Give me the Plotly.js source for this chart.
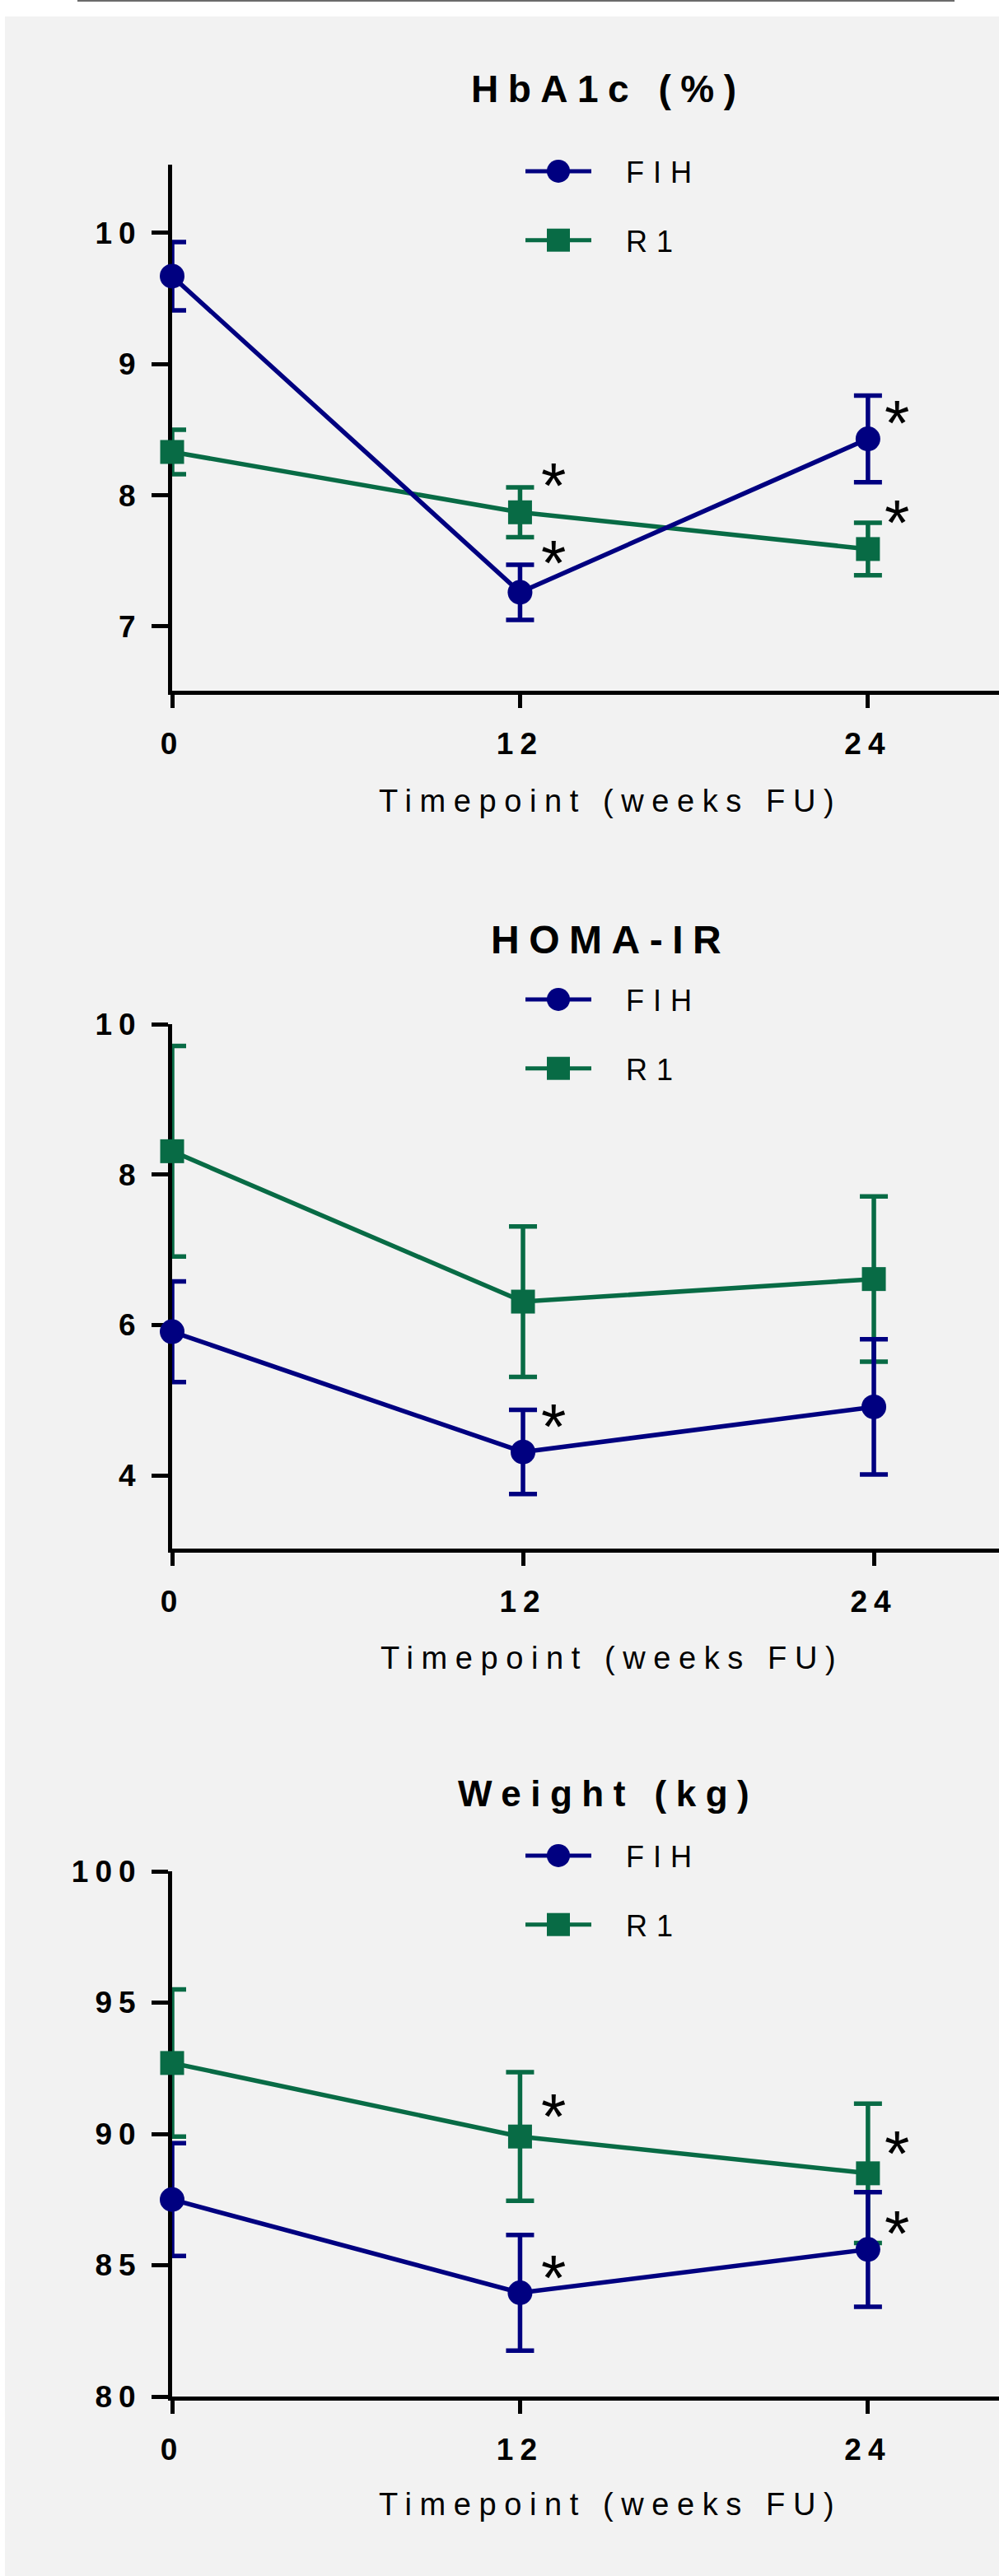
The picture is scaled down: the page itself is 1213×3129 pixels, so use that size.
<!DOCTYPE html>
<html>
<head>
<meta charset="utf-8">
<script src="https://cdn.plot.ly/plotly-3.0.1.min.js"></script>
<style>
  html, body { margin: 0; padding: 0; background: #ffffff; }
  #chart { width: 1213px; height: 3129px; }
  .xtick text, .x2tick text, .x3tick text,
  .ytick text, .y2tick text, .y3tick text { letter-spacing: 8px; }
  .annotation-text { letter-spacing: 11.5px; }
  .annotation[data-index="3"] .annotation-text,
  .annotation[data-index="4"] .annotation-text,
  .annotation[data-index="5"] .annotation-text { letter-spacing: 9.6px; }
  .scrollbox { clip-path: none !important; }
</style>
</head>
<body>
<div id="chart"></div>
<script>
// Follow-up timepoints (weeks)
const weeks = [0, 12, 24];
const weekLabels = ['0', '12', '24'];
const groupNames = ['FIH', 'R1'];

// HbA1c (%) — mean and error
const hba1cFIH = [9.67, 7.26, 8.43];
const hba1cFIHerr = [0.26, 0.21, 0.33];
const hba1cR1 = [8.33, 7.87, 7.59];
const hba1cR1err = [0.17, 0.19, 0.20];

// HOMA-IR — mean and error
const homaFIH = [5.91, 4.31, 4.91];
const homaFIHerr = [0.67, 0.56, 0.90];
const homaR1 = [8.31, 6.31, 6.61];
const homaR1err = [1.40, 1.00, 1.10];

// Weight (kg) — mean and error
const weightFIH = [87.5, 83.95, 85.6];
const weightFIHerr = [2.15, 2.2, 2.18];
const weightR1 = [92.7, 89.9, 88.5];
const weightR1err = [2.8, 2.45, 2.65];

// Significance asterisks (week position, value position)
const hba1cStarWeek = [13.15, 13.15, 25, 25];
const hba1cStarY = [8.18, 7.59, 8.66, 7.90];
const homaStarWeek = [13.05];
const homaStarY = [4.83];
const weightStarWeek = [13.15, 13.15, 25, 25];
const weightStarY = [91.2, 85.06, 89.8, 86.75];

// Panel titles and tick values
const panelTitles = ['HbA1c (%)', 'HOMA-IR', 'Weight (kg)'];
const xTitle = 'Timepoint (weeks FU)';
const hba1cTicks = [7, 8, 9, 10];
const homaTicks = [4, 6, 8, 10];
const weightTicks = [80, 85, 90, 95, 100];

const W = 1213, H = 3129;
const fx = v => v / W;
const fy = v => 1 - v / H;

const FIH_COLOR = '#000080';
const R1_COLOR = '#086b45';
const FONT = 'Liberation Sans, Arial, sans-serif';
const STAR_SIZE = 78;

function groupTrace(name, y, err, axisNum, legendName, color, symbol, size, rank) {
  const sfx = axisNum === 1 ? '' : String(axisNum);
  return {
    type: 'scatter', mode: 'lines+markers', name: name,
    x: weeks, y: y,
    xaxis: 'x' + sfx, yaxis: 'y' + sfx,
    legend: legendName, legendgroup: name + axisNum, legendrank: rank,
    line: { color: color, width: 5.5 },
    marker: { color: color, symbol: symbol, size: size },
    error_y: { type: 'data', array: err, visible: true, color: color, thickness: 5.5, width: 17 },
    cliponaxis: false, hoverinfo: 'skip'
  };
}

// R1 is drawn first so the FIH series sits on top
const data = [
  groupTrace(groupNames[1], hba1cR1, hba1cR1err, 1, 'legend', R1_COLOR, 'square', 29, 2),
  groupTrace(groupNames[0], hba1cFIH, hba1cFIHerr, 1, 'legend', FIH_COLOR, 'circle', 30, 1),
  groupTrace(groupNames[1], homaR1, homaR1err, 2, 'legend2', R1_COLOR, 'square', 29, 2),
  groupTrace(groupNames[0], homaFIH, homaFIHerr, 2, 'legend2', FIH_COLOR, 'circle', 30, 1),
  groupTrace(groupNames[1], weightR1, weightR1err, 3, 'legend3', R1_COLOR, 'square', 29, 2),
  groupTrace(groupNames[0], weightFIH, weightFIHerr, 3, 'legend3', FIH_COLOR, 'circle', 30, 1)
];

function xAxis(anchor, maxWeek) {
  return {
    anchor: anchor, domain: [fx(209), 1], range: [0, maxWeek],
    tickvals: weeks, ticktext: weekLabels,
    showline: true, linecolor: '#000', linewidth: 5,
    ticks: 'outside', ticklen: 16, tickwidth: 5, tickcolor: '#000',
    ticklabelstandoff: 12,
    tickfont: { family: FONT, size: 37, weight: 'bold', color: '#000' },
    showgrid: false, zeroline: false, layer: 'below traces', fixedrange: true
  };
}
function yAxis(anchor, topPx, bottomPx, range, ticks) {
  return {
    anchor: anchor, domain: [fy(bottomPx), fy(topPx)], range: range,
    tickvals: ticks,
    showline: true, linecolor: '#000', linewidth: 5,
    ticks: 'outside', ticklen: 20, tickwidth: 5, tickcolor: '#000',
    ticklabelstandoff: 4,
    tickfont: { family: FONT, size: 37, weight: 'bold', color: '#000' },
    showgrid: false, zeroline: false, layer: 'below traces', fixedrange: true
  };
}

function legendBox(topPx) {
  return {
    x: fx(633), y: fy(topPx), xanchor: 'left', yanchor: 'top',
    bgcolor: 'rgba(0,0,0,0)', borderwidth: 0,
    font: { family: FONT, size: 36, color: '#000' },
    traceorder: 'grouped', tracegroupgap: 34, itemwidth: 117,
    itemclick: false, itemdoubleclick: false
  };
}

const annotations = [];
function addText(text, xPx, yPx, size, weight) {
  annotations.push({
    text: text, xref: 'paper', yref: 'paper', x: fx(xPx), y: fy(yPx),
    xanchor: 'center', yanchor: 'middle', showarrow: false, xshift: 5.75,
    font: { family: FONT, size: size, weight: weight, color: '#000' }
  });
}
addText(panelTitles[0], 733, 108, 46, 'bold');
addText(panelTitles[1], 736, 1142, 48, 'bold');
addText(panelTitles[2], 733, 2178, 44, 'bold');
addText(xTitle, 735, 973, 38, 'normal');
addText(xTitle, 737, 2014, 38, 'normal');
addText(xTitle, 735, 3042, 38, 'normal');

function addStars(weekArr, yArr, axisNum) {
  const sfx = axisNum === 1 ? '' : String(axisNum);
  weekArr.forEach((w, i) => {
    annotations.push({
      text: '*', xref: 'x' + sfx, yref: 'y' + sfx, x: w, y: yArr[i],
      xanchor: 'center', yanchor: 'middle', showarrow: false,
      xshift: 5.75, yshift: -0.22 * STAR_SIZE,
      font: { family: FONT, size: STAR_SIZE, color: '#000' }
    });
  });
}
addStars(hba1cStarWeek, hba1cStarY, 1);
addStars(homaStarWeek, homaStarY, 2);
addStars(weightStarWeek, weightStarY, 3);

const layout = {
  width: W, height: H,
  margin: { l: 0, r: 0, t: 0, b: 0, pad: 0 },
  paper_bgcolor: '#ffffff', plot_bgcolor: 'rgba(0,0,0,0)',
  showlegend: true,
  xaxis: xAxis('y', 28.52),
  yaxis: yAxis('x', 200, 839, [6.51, 10.52], hba1cTicks),
  xaxis2: xAxis('y2', 28.28),
  yaxis2: yAxis('x2', 1244, 1881, [3.026, 10], homaTicks),
  xaxis3: xAxis('y3', 28.52),
  yaxis3: yAxis('x3', 2273, 2911, [80, 100], weightTicks),
  legend: legendBox(178),
  legend2: legendBox(1184),
  legend3: legendBox(2224),
  annotations: annotations,
  shapes: [
    { type: 'rect', xref: 'paper', yref: 'paper', layer: 'below',
      x0: fx(6), x1: 1, y0: 0, y1: fy(20),
      fillcolor: '#f2f2f2', line: { width: 0 } },
    { type: 'line', xref: 'paper', yref: 'paper', layer: 'below',
      x0: fx(94), x1: fx(1159), y0: fy(1), y1: fy(1),
      line: { color: '#6b6b6b', width: 2 } }
  ]
};

Plotly.newPlot('chart', data, layout, { displayModeBar: false, responsive: false })
  .then(gd => {
    // Longer, heavier legend sample lines with full-size markers centred on them
    gd.querySelectorAll('g.traces').forEach(tr => {
      tr.querySelectorAll('.legendlines path').forEach(p => {
        p.setAttribute('d', 'M5,0h80');
        p.style.strokeWidth = '5px';
      });
      tr.querySelectorAll('.legendpoints path').forEach(p => {
        p.setAttribute('transform', 'translate(45,0) scale(1.75)');
      });
      tr.querySelectorAll('text').forEach(t => { t.style.letterSpacing = '11px'; });
    });
  });
</script>
</body>
</html>
